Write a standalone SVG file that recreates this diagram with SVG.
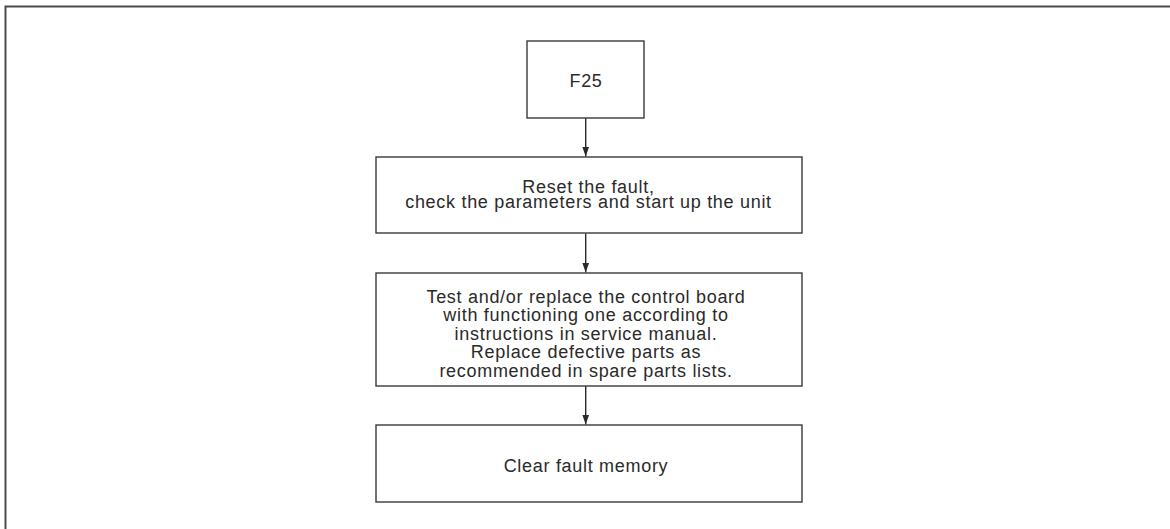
<svg xmlns="http://www.w3.org/2000/svg" width="1170" height="529" viewBox="0 0 1170 529">
<style>
.box{fill:#fff;stroke:#3a3a3a;stroke-width:1.4}
.lbl{font-family:"Liberation Sans",Arial,sans-serif;font-size:18px;letter-spacing:0.7px;fill:#2a2a2a;text-anchor:middle}
.con{stroke:#2a2a2a;stroke-width:1.4;fill:none}
</style>
<defs>
<marker id="ah" viewBox="0 0 10 10" refX="10" refY="5" markerWidth="10" markerHeight="10" markerUnits="userSpaceOnUse" orient="auto">
<path d="M0,1.5 L10,5 L0,8.5 Z" fill="#2a2a2a"/>
</marker>
</defs>
<rect width="1170" height="529" fill="#fff"/>
<path d="M5.5,529 V6.5 H1170" fill="none" stroke="#4a4a4a" stroke-width="2"/>
<g id="connectors">
<line class="con" x1="585.7" y1="118" x2="585.7" y2="156.5" marker-end="url(#ah)"/>
<line class="con" x1="585.7" y1="233.5" x2="585.7" y2="272.5" marker-end="url(#ah)"/>
<line class="con" x1="585.7" y1="386" x2="585.7" y2="424.5" marker-end="url(#ah)"/>
</g>
<g id="n1">
<rect class="box" x="527" y="41" width="117" height="77"/>
<text class="lbl" x="586" y="86.5">F25</text>
</g>
<g id="n2">
<rect class="box" x="376" y="157" width="426" height="76"/>
<text class="lbl" x="588.5" y="193.3">Reset the fault,</text>
<text class="lbl" x="588.5" y="207.5">check the parameters and start up the unit</text>
</g>
<g id="n3">
<rect class="box" x="376" y="273" width="426" height="113"/>
<text class="lbl" x="586" y="302.7">Test and/or replace the control board</text>
<text class="lbl" x="586" y="321.2">with functioning one according to</text>
<text class="lbl" x="586" y="339.7">instructions in service manual.</text>
<text class="lbl" x="586" y="358.2">Replace defective parts as</text>
<text class="lbl" x="586" y="376.7">recommended in spare parts lists.</text>
</g>
<g id="n4">
<rect class="box" x="376" y="425" width="426" height="77"/>
<text class="lbl" x="586" y="471.5">Clear fault memory</text>
</g>
</svg>
